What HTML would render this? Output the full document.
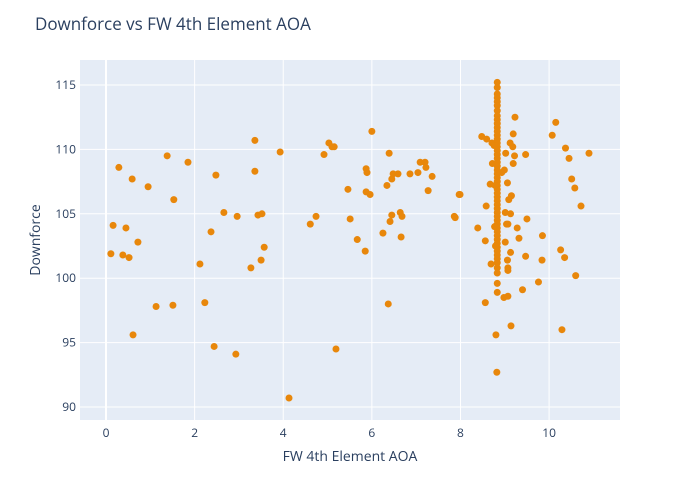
<!DOCTYPE html>
<html><head><meta charset="utf-8"><style>
body{margin:0;background:#fff;}
svg{display:block;font-family:"Open Sans","Liberation Sans",sans-serif;}
</style></head><body>
<svg id="chart" width="700" height="500">
<rect width="700" height="500" fill="#fff"/>
<text x="35" y="30" font-size="17" fill="#2a3f5f">Downforce vs FW 4th Element AOA</text>
<rect x="80" y="60" width="540" height="360" fill="#e5ecf6"/>
<g id="grid"></g><g id="pts"></g><g id="ticks"></g>
<text x="350" y="461" font-size="14" fill="#2a3f5f" text-anchor="middle">FW 4th Element AOA</text>
<text transform="translate(40,240) rotate(-90)" font-size="14" fill="#2a3f5f" text-anchor="middle">Downforce</text>
</svg>
<script>
const xTicks=[0,2,4,6,8,10];
const yTicks=[90,95,100,105,110,115];
const aoa=[0.11,0.16,0.29,0.38,0.45,0.52,0.59,0.61,0.72,0.95,1.13,1.38,1.51,1.53,1.85,2.12,2.23,2.37,2.44,2.48,2.66,2.93,2.96,3.27,3.36,3.36,3.43,3.50,3.52,3.57,3.93,4.13,4.61,4.74,4.92,5.03,5.10,5.15,5.19,5.46,5.51,5.67,5.85,5.87,5.89,5.87,5.96,6.0,6.25,6.34,6.39,6.37,6.41,6.45,6.45,6.48,6.59,6.64,6.66,6.68,6.86,7.04,7.09,7.20,7.22,7.27,7.36,7.86,7.97,
9.23,10.15,8.48,10.07,9.19,8.59,8.71,9.12,9.18,10.37,10.90,9.02,9.47,9.22,10.45,9.19,8.72,8.99,8.93,10.51,9.06,8.67,10.58,7.99,9.15,9.09,8.58,10.72,7.88,9.01,9.13,9.50,9.04,9.07,8.39,9.28,9.85,8.56,9.32,9.01,10.26,10.35,9.13,9.47,9.06,9.84,8.69,9.07,9.07,10.60,9.76,9.40,9.07,8.98,8.56,9.14,10.29,8.80,8.82,
8.83,8.83,8.83,8.83,8.83,8.83,8.83,8.83,8.83,8.83,8.83,8.83,8.83,8.83,8.83,8.83,8.83,8.83,8.83,8.83,8.83,8.83,8.83,8.83,8.83,8.83,8.83,8.83,8.83,8.83,8.83,8.83,8.83,8.83,8.83,8.83,8.83,8.83,8.83,8.83,8.83,8.83,8.83,8.83,8.83,8.83,8.83,8.83,8.83,8.83,8.76,8.78,8.77,8.79];
const downforce=[101.9,104.1,108.6,101.8,103.9,101.6,107.7,95.6,102.8,107.1,97.8,109.5,97.9,106.1,109.0,101.1,98.1,103.6,94.7,108.0,105.1,94.1,104.8,100.8,110.7,108.3,104.9,101.4,105.0,102.4,109.8,90.7,104.2,104.8,109.6,110.5,110.2,110.2,94.5,106.9,104.6,103.0,102.1,108.5,108.2,106.7,106.5,111.4,103.5,107.2,109.7,98.0,104.4,107.7,104.9,108.1,108.1,105.1,103.2,104.8,108.1,108.2,109.0,109.0,108.6,106.8,107.9,104.8,106.5,
112.5,112.1,111.0,111.1,111.2,110.8,110.5,110.5,110.2,110.1,109.7,109.7,109.6,109.5,109.3,108.9,108.9,108.4,108.2,107.7,107.4,107.3,107.0,106.5,106.4,106.1,105.6,105.6,104.7,105.1,105.0,104.6,104.2,104.2,103.9,103.9,103.3,102.9,103.1,102.8,102.2,101.6,102.0,101.7,101.4,101.4,101.1,100.8,100.6,100.2,99.7,99.1,98.6,98.5,98.1,96.3,96.0,95.6,92.7,
115.2,114.8,114.3,114.0,113.7,113.4,113.0,112.6,112.3,112.0,111.7,111.4,111.1,110.8,110.5,110.2,109.9,109.6,109.3,109.0,108.7,108.4,108.1,107.8,107.5,107.2,106.9,106.6,106.3,106.0,105.7,105.4,105.1,104.8,104.5,104.2,103.9,103.6,103.3,103.0,102.7,102.4,102.1,101.8,101.5,101.2,100.8,100.4,99.6,98.9,110.3,107.2,104.0,102.5];
const X0=80,X1=620,Y0=60,Y1=420,xMin=-0.587,xMax=11.6,yMin=88.99,yMax=116.94;
const sx=v=>X0+(v-xMin)/(xMax-xMin)*(X1-X0);
const sy=v=>Y1-(v-yMin)/(yMax-yMin)*(Y1-Y0);
const NS="http://www.w3.org/2000/svg";
const grid=document.getElementById('grid'),ticks=document.getElementById('ticks'),pts=document.getElementById('pts');
function mk(tag,attrs,parent){const e=document.createElementNS(NS,tag);for(const k in attrs)e.setAttribute(k,attrs[k]);parent.appendChild(e);return e;}
xTicks.forEach(t=>{
  const l=mk('line',{x1:sx(t),x2:sx(t),y1:Y0,y2:Y1,stroke:'#fff','stroke-width':t===0?2:1},grid);
  
  
  const tx=mk('text',{x:sx(t),y:437,'font-size':12,fill:'#2a3f5f','text-anchor':'middle'},ticks);
  tx.textContent=t;
  
  
});
yTicks.forEach(t=>{
  const l=mk('line',{x1:X0,x2:X1,y1:sy(t),y2:sy(t),stroke:'#fff','stroke-width':1},grid);
  
  
  const tx=mk('text',{x:76,y:sy(t)+4,'font-size':12,fill:'#2a3f5f','text-anchor':'end'},ticks);
  tx.textContent=t;
  
  
});
aoa.forEach((a,i)=>{
  const c=mk('circle',{cx:sx(a),cy:sy(downforce[i]),r:3.5,fill:'#e8870b'},pts);
  
  
});
</script>
</body></html>
